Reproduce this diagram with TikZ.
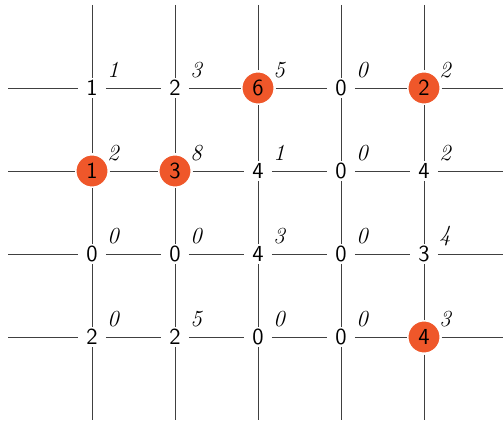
\documentclass[tikz,border=0pt]{standalone}
\usetikzlibrary{positioning}
\definecolor{hitred}{RGB}{239,87,42}
\begin{document}
\begin{tikzpicture}[
    x=0.5pt, y=-0.5pt,
    grd/.style={draw=black!75, line width=0.45pt},
    cell/.style={
      inner sep=0pt, minimum width=13.5pt, minimum height=10pt,
      font=\fontsize{11.5}{13}\selectfont\sffamily
    },
    hit/.style={
      cell, circle, fill=hitred, draw=white, line width=1pt,
      minimum size=16.5pt
    },
    lab/.style={
      shift={(21,-18)}, inner sep=0pt,
      font=\fontsize{11.5}{13}\selectfont\itshape
    }
  ]
    \useasboundingbox (0,0) rectangle (503,422);

    % --- Fila 1 ---
    \node[cell] (a1) at (92,88)  {1}; \node[lab] at (a1) {1};
    \node[cell] (a2) at (175,88) {2}; \node[lab] at (a2) {3};
    \node[hit]  (a3) at (258,88) {6}; \node[lab] at (a3) {5};
    \node[cell] (a4) at (341,88) {0}; \node[lab] at (a4) {0};
    \node[hit]  (a5) at (424,88) {2}; \node[lab] at (a5) {2};

    % --- Fila 2 ---
    \node[hit]  (b1) at (92,171)  {1}; \node[lab] at (b1) {2};
    \node[hit]  (b2) at (175,171) {3}; \node[lab] at (b2) {8};
    \node[cell] (b3) at (258,171) {4}; \node[lab] at (b3) {1};
    \node[cell] (b4) at (341,171) {0}; \node[lab] at (b4) {0};
    \node[cell] (b5) at (424,171) {4}; \node[lab] at (b5) {2};

    % --- Fila 3 ---
    \node[cell] (c1) at (92,254)  {0}; \node[lab] at (c1) {0};
    \node[cell] (c2) at (175,254) {0}; \node[lab] at (c2) {0};
    \node[cell] (c3) at (258,254) {4}; \node[lab] at (c3) {3};
    \node[cell] (c4) at (341,254) {0}; \node[lab] at (c4) {0};
    \node[cell] (c5) at (424,254) {3}; \node[lab] at (c5) {4};

    % --- Fila 4 ---
    \node[cell] (d1) at (92,337)  {2}; \node[lab] at (d1) {0};
    \node[cell] (d2) at (175,337) {2}; \node[lab] at (d2) {5};
    \node[cell] (d3) at (258,337) {0}; \node[lab] at (d3) {0};
    \node[cell] (d4) at (341,337) {0}; \node[lab] at (d4) {0};
    \node[hit]  (d5) at (424,337) {4}; \node[lab] at (d5) {3};

    % --- Extremos de la rejilla ---
    \coordinate (wa) at (8,88);   \coordinate (ea) at (508,88);
    \coordinate (wb) at (8,171);  \coordinate (eb) at (508,171);
    \coordinate (wc) at (8,254);  \coordinate (ec) at (508,254);
    \coordinate (wd) at (8,337);  \coordinate (ed) at (508,337);
    \coordinate (n1) at (92,5);   \coordinate (s1) at (92,420);
    \coordinate (n2) at (175,5);  \coordinate (s2) at (175,420);
    \coordinate (n3) at (258,5);  \coordinate (s3) at (258,420);
    \coordinate (n4) at (341,5);  \coordinate (s4) at (341,420);
    \coordinate (n5) at (424,5);  \coordinate (s5) at (424,420);

    % --- Lineas ---
    \draw[grd] (wa) -- (a1) -- (a2) -- (a3) -- (a4) -- (a5) -- (ea);
    \draw[grd] (wb) -- (b1) -- (b2) -- (b3) -- (b4) -- (b5) -- (eb);
    \draw[grd] (wc) -- (c1) -- (c2) -- (c3) -- (c4) -- (c5) -- (ec);
    \draw[grd] (wd) -- (d1) -- (d2) -- (d3) -- (d4) -- (d5) -- (ed);
    \draw[grd] (n1) -- (a1) -- (b1) -- (c1) -- (d1) -- (s1);
    \draw[grd] (n2) -- (a2) -- (b2) -- (c2) -- (d2) -- (s2);
    \draw[grd] (n3) -- (a3) -- (b3) -- (c3) -- (d3) -- (s3);
    \draw[grd] (n4) -- (a4) -- (b4) -- (c4) -- (d4) -- (s4);
    \draw[grd] (n5) -- (a5) -- (b5) -- (c5) -- (d5) -- (s5);
  \end{tikzpicture}
\end{document}
